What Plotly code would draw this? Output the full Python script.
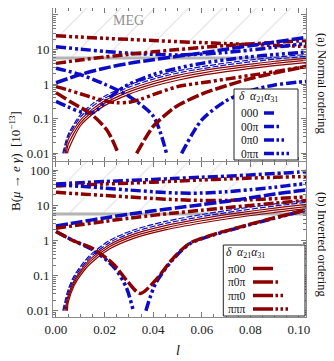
import plotly.graph_objects as go
from plotly.subplots import make_subplots

BLUE = "#0c0cc4"
RED = "#8c0000"
FONT = "Liberation Serif"

L_MIN, L_MAX = -0.00123, 0.1029
MEG_LIMIT = 5.7
Y_RANGE_TOP = [-2.234, 2.202]
Y_RANGE_BOT = [-2.179, 2.251]

X_TICKS = [0.0, 0.02, 0.04, 0.06, 0.08, 0.10]
X_TICK_TEXT = ["0.00", "0.02", "0.04", "0.06", "0.08", "0.10"]
Y_TICKS = [0.01, 0.1, 1, 10, 100]
Y_TICK_TEXT = ["0.01", "0.1", "1", "10", "100"]

LG = [0.0, 0.01, 0.02, 0.03, 0.04, 0.05, 0.06, 0.07, 0.08, 0.09, 0.1, 0.103]

# ---------------- (a) Normal ordering ----------------
top_r1 = [25, 23, 21.2, 19.7, 18.3, 17, 15.9, 14.9, 14, 13.2, 12.5, 12.3]
top_b1 = [12.1, 10.3, 8.9, 7.9, 7.3, 7.0, 7.4, 8.3, 9.7, 11.7, 14.2, 15]
top_r3 = [4.0, 5.0, 6.1, 7.3, 8.6, 10, 11.5, 13, 14.6, 16.2, 17.8, 18.3]
top_b2 = [1.1, 1.9, 2.9, 4.0, 5.1, 6.4, 8.0, 10.2, 13, 16.5, 21, 22.5]

top_b3_l = [0, 0.005, 0.01, 0.013, 0.016, 0.02, 0.025, 0.03, 0.04, 0.05, 0.06, 0.07, 0.08, 0.09, 0.1, 0.103]
top_b3 = [0.32, 0.22, 0.16, 0.148, 0.16, 0.3, 0.6, 1.0, 1.9, 2.9, 4.0, 5.1, 6.2, 7.2, 8.2, 8.5]

top_b4a_l = [0, 0.01, 0.02, 0.03, 0.04, 0.0455]
top_b4a = [2.9, 1.9, 1.0, 0.45, 0.12, 0.01]
top_b4b_l = [0.0517, 0.06, 0.07, 0.08, 0.09, 0.1, 0.103]
top_b4b = [0.01, 0.093, 0.33, 0.65, 0.95, 1.15, 1.2]

top_r2_l = [0, 0.005, 0.01, 0.015, 0.02, 0.025, 0.03, 0.035, 0.04, 0.05, 0.06, 0.07, 0.08, 0.09, 0.1, 0.103]
top_r2 = [0.85, 0.68, 0.53, 0.41, 0.33, 0.29, 0.3, 0.37, 0.5, 0.85, 1.1, 1.4, 1.8, 2.3, 3.0, 3.2]

top_r4a_l = [0, 0.007, 0.014, 0.021, 0.0256]
top_r4a = [0.57, 0.28, 0.145, 0.047, 0.01]
top_r4b_l = [0.0332, 0.04, 0.047, 0.05, 0.06, 0.07, 0.08, 0.09, 0.1, 0.103]
top_r4b = [0.01, 0.06, 0.17, 0.24, 0.52, 0.9, 1.45, 2.1, 2.95, 3.3]

TB_L = [0.005, 0.01, 0.015, 0.02, 0.03, 0.04, 0.05, 0.06, 0.07, 0.08, 0.09, 0.103]
top_thin_start = [0.0028, 0.0032, 0.0038, 0.0043, 0.0048]
top_thin = [
    [0.035, 0.13, 0.27, 0.45, 0.95, 1.6, 2.4, 3.2, 4.1, 5.0, 6.0, 7.2],
    [0.03, 0.11, 0.23, 0.39, 0.82, 1.4, 2.1, 2.8, 3.6, 4.4, 5.3, 6.4],
    [0.025, 0.09, 0.19, 0.33, 0.7, 1.2, 1.8, 2.45, 3.1, 3.8, 4.6, 5.6],
    [0.018, 0.075, 0.16, 0.28, 0.6, 1.02, 1.55, 2.1, 2.7, 3.3, 4.0, 4.9],
    [0.012, 0.062, 0.135, 0.24, 0.51, 0.87, 1.3, 1.8, 2.3, 2.85, 3.45, 4.2],
]
top_thin_colors = [BLUE, BLUE, RED, RED, RED]

# ---------------- (b) Inverted ordering ----------------
bot_b1 = [41, 44.5, 48, 51.5, 55, 59, 63.5, 68, 74, 81, 89, 92]
bot_r1 = [36, 38.3, 40.7, 43.2, 46, 49.5, 53, 56.5, 60, 63, 66, 67]
bot_b2 = [39, 35, 31, 27.5, 24.5, 22.5, 22.5, 24.5, 28, 33, 40, 42]
bot_r2 = [23.6, 21.2, 19.2, 17.4, 15.8, 14.5, 13.9, 13.9, 14.5, 15.6, 17, 17.5]
bot_b3 = [2.6, 3.4, 4.4, 5.6, 7.0, 8.6, 10.5, 13, 16.5, 21, 26, 27.5]
bot_r3 = [2.25, 2.8, 3.5, 4.3, 5.2, 6.2, 7.3, 8.6, 10, 11.6, 13.3, 13.8]

bot_bdip_a_l = [0, 0.007, 0.015, 0.024, 0.029, 0.0318]
bot_bdip_a = [1.8, 1.0, 0.55, 0.17, 0.045, 0.01]
bot_bdip_b_l = [0.037, 0.041, 0.048, 0.055, 0.065, 0.074, 0.088, 0.1, 0.103]
bot_bdip_b = [0.01, 0.06, 0.28, 0.8, 1.45, 2.2, 4.0, 6.5, 7.3]

bot_rdip_l = [0, 0.007, 0.015, 0.024, 0.029, 0.0346, 0.041, 0.048, 0.055, 0.065, 0.074, 0.088, 0.1, 0.103]
bot_rdip = [1.8, 1.0, 0.6, 0.2, 0.074, 0.031, 0.074, 0.3, 0.83, 1.5, 2.25, 4.1, 6.6, 7.4]

BB_L = [0.005, 0.0075, 0.01, 0.014, 0.022, 0.032, 0.045, 0.06, 0.075, 0.09, 0.103]
bot_thin_start = [0.0028, 0.0032, 0.0037, 0.0042, 0.0047]
bot_thin = [
    [0.04, 0.1, 0.18, 0.38, 1.0, 2.0, 3.5, 5.5, 8.0, 11, 14],
    [0.033, 0.085, 0.155, 0.33, 0.87, 1.75, 3.05, 4.8, 7.0, 9.6, 12.2],
    [0.027, 0.072, 0.135, 0.29, 0.76, 1.52, 2.65, 4.2, 6.1, 8.4, 10.7],
    [0.022, 0.062, 0.117, 0.25, 0.66, 1.33, 2.3, 3.65, 5.3, 7.3, 9.3],
    [0.017, 0.052, 0.1, 0.215, 0.57, 1.15, 2.0, 3.15, 4.6, 6.3, 8.1],
]
bot_thin_colors = [BLUE, BLUE, RED, RED, RED]

TOP_LEGEND = ["000", "00π", "0π0", "0ππ"]
BOT_LEGEND = ["π00", "π0π", "ππ0", "πππ"]

# dash styles
S0 = "12px,3px"
S1 = "10px,3px,3px,3px"
S2 = "10px,3px,3px,3px,3px,3px"
S3 = "10px,3px,3px,3px,3px,3px,3px,3px"
THIN_DASH = "6px,2px"
W = 3.5

fig = make_subplots(rows=2, cols=1, shared_xaxes=True, vertical_spacing=0)


def add(l, b, color, dash, width, row):
    fig.add_trace(go.Scatter(x=l, y=b, mode="lines",
                             line=dict(color=color, dash=dash, width=width, shape="spline", smoothing=0.8),
                             hoverinfo="skip", showlegend=False), row=row, col=1)


for row in (1, 2):
    fig.add_trace(go.Scatter(x=[L_MIN, L_MAX, L_MAX, L_MIN, L_MIN],
                             y=[MEG_LIMIT, MEG_LIMIT, 1e3, 1e3, MEG_LIMIT],
                             fill="toself", mode="none",
                             fillcolor="white",
                             fillpattern=dict(shape="/", size=24, solidity=0.05,
                                              fgcolor="#c4c4c4", bgcolor="white"),
                             hoverinfo="skip", showlegend=False), row=row, col=1)
    fig.add_trace(go.Scatter(x=[L_MIN, L_MAX], y=[MEG_LIMIT, MEG_LIMIT], mode="lines",
                             line=dict(color="#b4b4b4", width=3),
                             hoverinfo="skip", showlegend=False), row=row, col=1)

# thin bundles
for s, vals, c in zip(top_thin_start, top_thin, top_thin_colors):
    add([s] + TB_L, [0.01] + vals, c, "solid" if c == RED else THIN_DASH, 1.2, 1)
for s, vals, c in zip(bot_thin_start, bot_thin, bot_thin_colors):
    add([s] + BB_L, [0.01] + vals, c, "solid" if c == RED else THIN_DASH, 1.2, 2)

# top panel thick curves
add(LG, top_r1, RED, S3, W, 1)
add(LG, top_b1, BLUE, S2, W, 1)
add(LG, top_r3, RED, S1, W, 1)
add(LG, top_b2, BLUE, S0, W, 1)
add(top_b3_l, top_b3, BLUE, S3, W, 1)
add(top_b4a_l, top_b4a, BLUE, S1, W, 1)
add(top_b4b_l, top_b4b, BLUE, S1, W, 1)
add(top_r2_l, top_r2, RED, S2, W, 1)
add(top_r4a_l, top_r4a, RED, S0, W, 1)
add(top_r4b_l, top_r4b, RED, S0, W, 1)

# bottom panel thick curves
add(LG, bot_b1, BLUE, S1, W, 2)
add(LG, bot_r1, RED, S3, W, 2)
add(LG, bot_b2, BLUE, S2, W, 2)
add(LG, bot_r2, RED, S2, W, 2)
add(LG, bot_b3, BLUE, S0, W, 2)
add(LG, bot_r3, RED, S1, W, 2)
add(bot_bdip_a_l, bot_bdip_a, BLUE, S3, W, 2)
add(bot_bdip_b_l, bot_bdip_b, BLUE, S3, W, 2)
add(bot_rdip_l, bot_rdip, RED, S0, W, 2)

tickfont = dict(family=FONT, size=13, color="#222")
minor_y = [m * 10.0 ** e for e in range(-3, 3) for m in range(2, 10)]

fig.update_xaxes(range=[L_MIN, L_MAX], tickvals=X_TICKS, ticktext=X_TICK_TEXT,
                 ticks="inside", ticklen=5, tickcolor="#777", showline=True, linecolor="#8a8a8a",
                 linewidth=1, mirror="allticks", showgrid=False, zeroline=False,
                 minor=dict(dtick=0.005, tick0=0, ticks="inside", ticklen=3, tickcolor="#777"),
                 tickfont=tickfont)
fig.update_yaxes(type="log", tickvals=Y_TICKS, ticktext=Y_TICK_TEXT,
                 ticks="inside", ticklen=5, tickcolor="#777", showline=True, linecolor="#8a8a8a",
                 linewidth=1, mirror="allticks", showgrid=False, zeroline=False,
                 minor=dict(tickvals=minor_y, ticks="inside", ticklen=3, tickcolor="#777"),
                 tickfont=tickfont)
fig.update_yaxes(range=Y_RANGE_TOP, row=1, col=1)
fig.update_yaxes(range=Y_RANGE_BOT, row=2, col=1)

# the page body adds an 8px offset; the figure is sized to fill the rest of the window
OFFSET = 8
W_FIG, H_FIG = 334 - OFFSET, 361 - OFFSET
ML, MR, MT, MB = 45, 28, 0, 44
PW, PH = W_FIG - ML - MR, H_FIG - MT - MB

SPLIT = (H_FIG - MB - (161.5 - OFFSET)) / PH
fig.update_layout(yaxis=dict(domain=[SPLIT, 1]), yaxis2=dict(domain=[0, SPLIT]))


def px(xp):
    return (xp - OFFSET - ML) / PW


def py(yp):
    return (H_FIG - MB - (yp - OFFSET)) / PH


shapes = []
annotations = []
lfont = dict(family=FONT, size=11.5, color="#111")
CENTER = dict(xanchor="center", yanchor="middle", showarrow=False, xref="paper", yref="paper")

# MEG label
annotations.append(dict(x=0.030, y=1.855, xref="x", yref="y", text="MEG", showarrow=False,
                        xanchor="center", yanchor="middle",
                        font=dict(family=FONT, size=14, color="#909090")))

# axis titles
annotations.append(dict(x=px(15), y=py(161), textangle=-90,
                        text="B(<i>μ</i> → <i>e γ</i>)  [10<sup>−13</sup>]",
                        font=dict(family=FONT, size=13, color="#111"), **CENTER))
annotations.append(dict(x=px(322), y=py(83), textangle=90,
                        text="(a) Normal ordering",
                        font=dict(family=FONT, size=12.5, color="#111"), **CENTER))
annotations.append(dict(x=px(322), y=py(245), textangle=90,
                        text="(b) Inverted ordering",
                        font=dict(family=FONT, size=12.5, color="#111"), **CENTER))
annotations.append(dict(x=px(178), y=py(350), text="<i>l</i>",
                        font=dict(family=FONT, size=14, color="#111"), **CENTER))

header = "<i>δ</i>  <i>α</i><sub>21</sub><i>α</i><sub>31</sub>"
LEG_DASH = ["solid", "{a}px,2.5px,2.5px,2.5px", "{a}px,2.5px,2.5px,2.5px,2.5px,2.5px",
            "{a}px,2.5px,2.5px,2.5px,2.5px,2.5px,2.5px,2.5px"]


def legend(box, head_y, text_x, rows_y, samp_x, samp_len, labels, color):
    x0, y0, x1, y1 = box
    shapes.append(dict(type="rect", xref="paper", yref="paper", x0=px(x0), x1=px(x1),
                       y0=py(y1), y1=py(y0), line=dict(color="#222", width=1),
                       fillcolor="white", layer="above"))
    annotations.append(dict(x=px(text_x - 2), y=py(head_y), xref="paper", yref="paper",
                            xanchor="left", yanchor="middle", text=header, showarrow=False,
                            borderpad=0, font=lfont))
    for i, (lab, yy) in enumerate(zip(labels, rows_y)):
        annotations.append(dict(x=px(text_x), y=py(yy), xref="paper", yref="paper",
                                xanchor="left", yanchor="middle", text=lab, showarrow=False,
                                borderpad=0, font=lfont))
        length = samp_len + 5 * i
        dash = LEG_DASH[i].format(a=samp_len)
        shapes.append(dict(type="line", xref="paper", yref="paper", x0=px(samp_x),
                           x1=px(samp_x + length), y0=py(yy), y1=py(yy),
                           line=dict(color=color, width=3.5, dash=dash), layer="above"))


legend((234, 89, 298, 160), 97.5, 240, [113, 126.5, 140, 153.5], 264, 10, TOP_LEGEND, BLUE)
legend((223.3, 245, 305, 316), 253, 227, [268.5, 282, 295.5, 309], 253, 20, BOT_LEGEND, RED)

fig.update_layout(width=W_FIG, height=H_FIG, margin=dict(l=ML, r=MR, t=MT, b=MB),
                  plot_bgcolor="white", paper_bgcolor="white", showlegend=False,
                  shapes=shapes, annotations=annotations,
                  font=dict(family=FONT, size=13, color="#222"))

fig.write_html("out.html")
